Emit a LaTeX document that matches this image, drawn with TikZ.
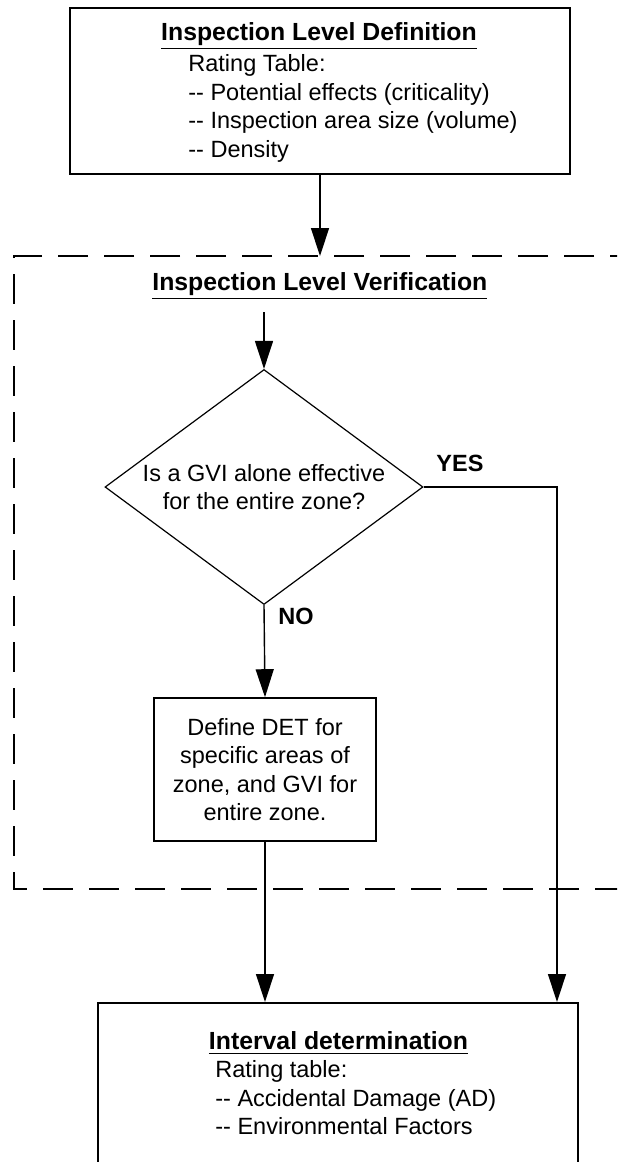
\documentclass[tikz,border=0pt]{standalone}
\usepackage{fontspec}
\setmainfont{Liberation Sans}
\usepackage{tikz}
\usetikzlibrary{shapes.geometric, arrows.meta, positioning}

\tikzset{
	box/.style={draw, rectangle, line width=0.8pt, inner sep=0pt},
	decision/.style={draw, diamond, line width=0.6pt, inner sep=0pt, minimum width=159pt, minimum height=117.5pt},
	boxtitle/.style={inner sep=0pt, font=\fontsize{12.4}{14.5}\selectfont\bfseries},
	boxtext/.style={inner sep=0pt, align=left, font=\fontsize{11.75}{14.3}\selectfont},
	answer/.style={inner sep=0pt, font=\fontsize{11.75}{14}\selectfont\bfseries},
	flow/.style={line width=0.7pt, -{Triangle[length=14pt, width=9pt]}},
	frame/.style={line width=1pt, dash pattern=on 15pt off 8pt},
}

\begin{document}
\begin{tikzpicture}[x=0.5pt, y=-0.5pt]
			\useasboundingbox (0,0) rectangle (617,1162);
			\clip (0,0) rectangle (617,1162);
			
			% inspection level definition
			\node[box, minimum width=250pt, minimum height=83pt] (defn) at (320,91) {};
			\node[boxtitle] (defntitle) at (319,36) {\underline{Inspection Level Definition}};
			\node[boxtext, anchor=north west] (defnbody) at (188,54)
				{Rating Table:\\ -{}- Potential effects (criticality)\\ -{}- Inspection area size (volume)\\ -{}- Density};
			\coordinate (vertop) at (320,256);
			\draw[flow] (defn.south) -- (vertop);
			
			% inspection level verification
			\draw[frame] (640,256) -- (14,256) -- (14,889) -- (640,889);
			\node[boxtitle, anchor=west] (vertitle) at (152,286) {\underline{Inspection Level Verification}};
			\coordinate (verin) at (264,312);
			\node[decision] (gvi) at (264,487) {};
			\node[boxtext, align=center] (gvitext) at (gvi.center) {Is a GVI alone effective\\for the entire zone?};
			\draw[flow] (verin) -- (gvi.north);
			\node[answer] (yes) at (460,463) {YES};
			\node[answer] (no) at (296,616) {NO};
			\node[box, minimum width=111pt, minimum height=71.5pt, align=center,
				font=\fontsize{11.75}{14.3}\selectfont] (detdef) at (265,769.5)
				{Define DET for\\specific areas of\\zone, and GVI for\\entire zone.};
			\draw[flow] (gvi.south) -- (detdef.north);
			
			% interval determination
			\node[box, anchor=north, minimum width=240pt, minimum height=160pt] (interval) at (338,1002) {};
			\node[boxtitle] (inttitle) at (338.5,1043) {\underline{Interval determination}};
			\node[boxtext, anchor=north west] (intbody) at (215,1060)
				{Rating table:\\ -{}- Accidental Damage (AD)\\ -{}- Environmental Factors};
			\coordinate (yesturn) at (557,487);
			\draw[flow] (detdef.south) -- (detdef.south |- interval.north);
			\draw[flow] (gvi.east) -- (yesturn) -- (yesturn |- interval.north);
		\end{tikzpicture}
\end{document}
